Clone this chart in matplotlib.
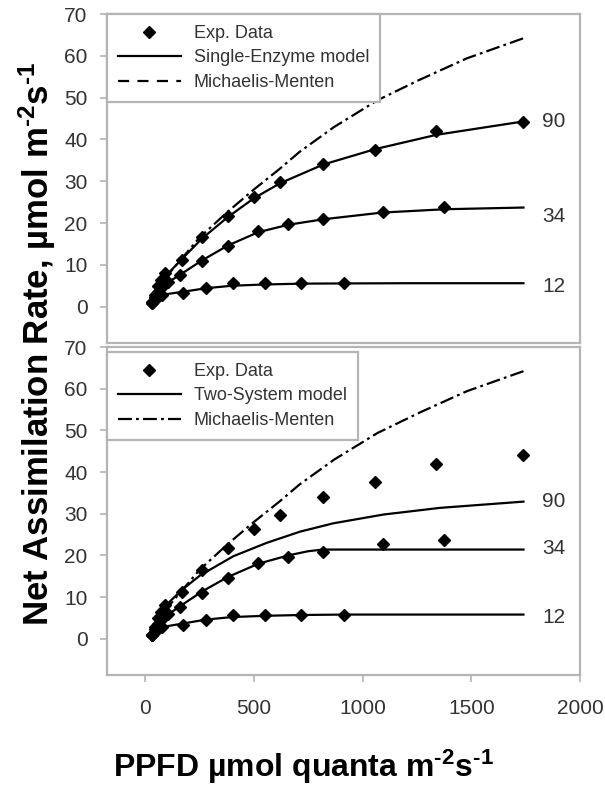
import matplotlib
matplotlib.use("Agg")
import matplotlib.pyplot as plt
from matplotlib.lines import Line2D

plt.rcParams['font.family'] = ['Liberation Sans', 'DejaVu Sans']
plt.rcParams['mathtext.fontset'] = 'custom'
plt.rcParams['mathtext.rm'] = 'Liberation Sans:bold'
plt.rcParams['mathtext.bf'] = 'Liberation Sans:bold'
plt.rcParams['mathtext.default'] = 'bf'
plt.rcParams['lines.scale_dashes'] = False

# ---- experimental data (same in both panels) ----
ppfd90 = [32, 46, 61, 75, 92, 170, 261, 380, 501, 621, 817, 1057, 1338, 1736]
a90 = [1.0, 2.9, 5.0, 6.3, 8.1, 11.1, 16.6, 21.7, 26.3, 29.8, 34.1, 37.5, 41.9, 44.2]
ppfd34 = [32, 46, 61, 80, 105, 161, 261, 380, 521, 659, 817, 1093, 1376]
a34 = [0.9, 2.3, 3.6, 4.8, 5.9, 7.5, 11.0, 14.5, 18.1, 19.7, 20.9, 22.7, 23.8]
ppfd12 = [32, 46, 61, 80, 176, 280, 403, 552, 717, 917]
a12 = [0.8, 1.8, 2.4, 2.9, 3.3, 4.5, 5.6, 5.6, 5.7, 5.7]

# ---- Single-Enzyme model curves (top) ----
se90_x = [30, 60, 100, 170, 260, 380, 500, 620, 820, 1060, 1340, 1740]
se90_y = [1.0, 4.8, 7.6, 11.4, 16.2, 21.4, 25.9, 29.5, 34.0, 37.7, 41.1, 44.3]
se34_x = [30, 60, 100, 160, 260, 380, 520, 660, 820, 1090, 1380, 1740]
se34_y = [0.9, 3.6, 5.6, 7.6, 11.0, 14.6, 17.8, 19.6, 20.9, 22.5, 23.3, 23.7]
se12_x = [30, 60, 100, 180, 280, 400, 550, 720, 920, 1200, 1740]
se12_y = [0.8, 2.3, 3.0, 3.6, 4.4, 5.0, 5.3, 5.5, 5.55, 5.6, 5.6]

# ---- Two-System model curves (bottom) ----
ts90_x = [30, 60, 115, 176, 253, 406, 559, 713, 866, 1096, 1356, 1740]
ts90_y = [1.0, 4.8, 9.0, 12.0, 15.2, 19.8, 23.0, 25.7, 27.7, 29.8, 31.4, 32.9]
ts34_x = [30, 60, 100, 161, 261, 380, 521, 659, 750, 817, 1740]
ts34_y = [0.9, 3.6, 5.6, 7.8, 11.3, 14.8, 18.0, 20.0, 21.0, 21.4, 21.4]
ts12_x = [30, 60, 100, 180, 280, 400, 550, 720, 920, 1740]
ts12_y = [0.8, 2.3, 3.0, 3.7, 4.6, 5.2, 5.5, 5.7, 5.8, 5.8]

# ---- Michaelis-Menten curve ----
mm_x = [30, 100, 250, 380, 500, 620, 710, 870, 1070, 1260, 1480, 1740]
mm_y = [1.2, 7.3, 16.5, 22.7, 28.0, 33.0, 37.0, 43.0, 49.4, 54.2, 59.4, 64.2]

curve_labels = ['90', '34', '12']
top_label_y = [44.2, 21.5, 4.7]
bot_label_y = [32.9, 21.6, 5.0]

xticks = [0, 500, 1000, 1500, 2000]
yticks = [0, 10, 20, 30, 40, 50, 60, 70]

W, H = 605, 786
fig = plt.figure(figsize=(W / 100, H / 100), dpi=100)

def ax_rect(l, t, r, b):
    return [l / W, 1 - b / H, (r - l) / W, (b - t) / H]

ax1 = fig.add_axes(ax_rect(107, 14, 580, 343))
ax2 = fig.add_axes(ax_rect(107, 347, 580, 675))

spine_col = '#b4b4b4'
tick_col = '#333333'
mm_dash = (0, (10, 3, 2, 3))

for ax in (ax1, ax2):
    ax.set_xlim(-175, 2000)
    ax.set_ylim(-8.7, 70)
    ax.set_yticks(yticks)
    ax.set_xticks(xticks)
    for s in ax.spines.values():
        s.set_color(spine_col)
        s.set_linewidth(1.6)
    ax.tick_params(axis='both', direction='out', length=5, width=1.2,
                   color=spine_col, labelcolor=tick_col, labelsize=15, pad=9)

ax1.tick_params(axis='x', bottom=False, labelbottom=False)
ax2.tick_params(axis='x', pad=12)

ms = 6.5
lw = 1.6

# top panel
for xs, ys in [(se90_x, se90_y), (se34_x, se34_y), (se12_x, se12_y)]:
    ax1.plot(xs, ys, color='black', lw=lw, zorder=3)
ax1.plot(mm_x, mm_y, color='black', lw=lw, linestyle=mm_dash, zorder=3)
for xs, ys in [(ppfd90, a90), (ppfd34, a34), (ppfd12, a12)]:
    ax1.plot(xs, ys, linestyle='none', marker='D', ms=ms, color='black', zorder=4)
for lab, yv in zip(curve_labels, top_label_y):
    ax1.text(1880, yv, lab, ha='center', va='center', fontsize=15, color=tick_col)

# bottom panel
for xs, ys in [(ts90_x, ts90_y), (ts34_x, ts34_y), (ts12_x, ts12_y)]:
    ax2.plot(xs, ys, color='black', lw=lw, zorder=3)
ax2.plot(mm_x, mm_y, color='black', lw=lw, linestyle=mm_dash, zorder=3)
for xs, ys in [(ppfd90, a90), (ppfd34, a34), (ppfd12, a12)]:
    ax2.plot(xs, ys, linestyle='none', marker='D', ms=ms, color='black', zorder=4)
for lab, yv in zip(curve_labels, bot_label_y):
    ax2.text(1880, yv, lab, ha='center', va='center', fontsize=15, color=tick_col)

def make_legend(ax, model_name, mm_style, top=1.0):
    handles = [
        Line2D([], [], linestyle='none', marker='D', ms=ms, color='black'),
        Line2D([], [], color='black', lw=lw),
        Line2D([], [], color='black', lw=lw, linestyle=mm_style),
    ]
    labels = ['Exp. Data', model_name, 'Michaelis-Menten']
    leg = ax.legend(handles, labels, loc='upper left', bbox_to_anchor=(0, top),
                    borderaxespad=0, fontsize=13, handlelength=3.5,
                    handletextpad=0.7, labelspacing=0.42, borderpad=0.6,
                    fancybox=False, framealpha=1, edgecolor=spine_col,
                    numpoints=1)
    leg.get_frame().set_linewidth(1.6)
    for t in leg.get_texts():
        t.set_color(tick_col)
    return leg

make_legend(ax1, 'Single-Enzyme model', (0, (8, 6)))
make_legend(ax2, 'Two-System model', mm_dash, top=1 - 5 / 328)

HY = '\u2010'
sup2 = r'$^{\mathrm{' + HY + '}2}$'
sup1 = r'$^{\mathrm{' + HY + '}1}$'
fig.text(113 / W, 1 - 777 / H, 'PPFD µmol quanta m' + sup2 + 's' + sup1,
         ha='left', va='baseline', fontsize=23, fontweight='bold')
fig.text(37 / W, 1 - 344 / H, 'Net Assimilation Rate, µmol m' + sup2 + 's' + sup1,
         ha='center', va='center', rotation=90, fontsize=25, fontweight='bold')

fig.savefig('out.png', dpi=100)
